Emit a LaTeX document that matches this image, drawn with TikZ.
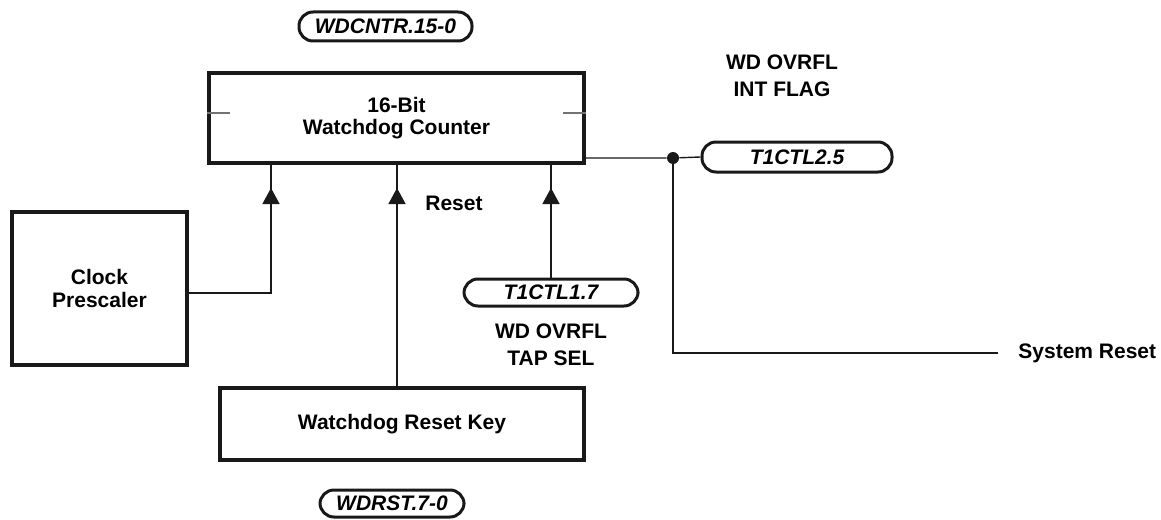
\documentclass[tikz,border=0pt]{standalone}
\usepackage{fontspec}
\setmainfont{Liberation Sans}
\usepackage{tikz}
\usetikzlibrary{arrows.meta,decorations.markings}

\begin{document}
\begin{tikzpicture}[x=0.5pt, y=-0.5pt,
		box_style/.style={draw=black!90,line width=2pt,inner sep=0pt,align=center,
			font=\fontsize{10.5}{11.25}\selectfont\bfseries},
		pill_style/.style={draw=black!90,line width=1.5pt,rounded corners=7pt,inner sep=0pt,
			font=\fontsize{10.5}{12}\selectfont\bfseries\itshape},
		label_style/.style={inner sep=0pt,align=center,
			font=\fontsize{10.5}{13.5}\selectfont\bfseries},
		edge_style/.style={draw=black!90,line width=0.7pt},
		arrow_style/.style={edge_style,postaction={decorate},
			decoration={markings,mark=at position -11.5pt with {\arrow{Triangle[width=8.5pt,length=8pt]}}}},
		tick_style/.style={draw=black!55,line width=0.6pt}]
		
		\useasboundingbox (0,0) rectangle (1161,519);
		
		\node[box_style,minimum width=187.5pt,minimum height=45pt] (cnt) at (396.5,118) {16-Bit\\Watchdog Counter};
		\node[box_style,minimum width=87.5pt,minimum height=76.5pt] (pre) at (99.5,288.5) {Clock\\Prescaler};
		\node[box_style,minimum width=182pt,minimum height=36pt] (key) at (402,424) {Watchdog Reset Key};
		
		\node[pill_style,minimum width=86.5pt,minimum height=14.5pt] (wdcntr) at (385.5,26.5) {WDCNTR.15-0};
		\node[pill_style,minimum width=72pt,minimum height=13.5pt] (wdrst) at (392,503.5) {WDRST.7-0};
		\node[pill_style,minimum width=87pt,minimum height=13.5pt] (t1) at (551,292.5) {T1CTL1.7};
		\node[pill_style,minimum width=95pt,minimum height=15pt] (t2) at (797,157) {T1CTL2.5};
		
		\node[label_style,anchor=west] (rst) at (425,203) {Reset};
		\node[label_style] (intflag) at (782,75.5) {WD OVRFL\\INT FLAG};
		\node[label_style] (tapsel) at (551,345) {WD OVRFL\\TAP SEL};
		\node[label_style,anchor=west] (sysrst) at (1018,353) {System Reset};
		
		\node[circle,fill=black!90,inner sep=0pt,minimum size=6pt] (dot) at (673,158) {};
		
		% counter stage marks
		\draw[tick_style] (cnt.west |- 0,113) -- ++(23,0);
		\draw[tick_style] (cnt.east |- 0,113) -- ++(-23,0);
		
		% inputs to the counter
		\draw[arrow_style] (pre.east |- 0,293) -| (cnt.south -| 271,0);
		\draw[arrow_style] (key.north -| 397,0) -- (cnt.south -| 397,0);
		\draw[arrow_style] (t1.north) -- (cnt.south -| t1.north);
		
		% overflow output
		\draw[edge_style] (cnt.east |- dot) -- (dot) -- (t2.west);
		\draw[edge_style,shorten >=10pt] (dot) |- (sysrst.west);
		
\end{tikzpicture}
\end{document}
